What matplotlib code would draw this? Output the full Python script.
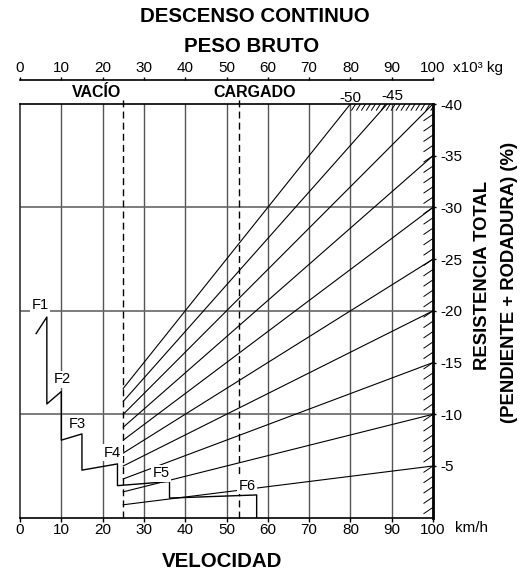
import numpy as np
import matplotlib
matplotlib.use("Agg")
import matplotlib.pyplot as plt

plt.rcParams["font.family"] = ["Liberation Sans", "DejaVu Sans"]

# ---- data ----
speed_ticks = [0, 10, 20, 30, 40, 50, 60, 70, 80, 90, 100]          # km/h (bottom)
weight_ticks = [0, 10, 20, 30, 40, 50, 60, 70, 80, 90, 100]         # x10^3 kg (top)
resist_ticks = [-5, -10, -15, -20, -25, -30, -35, -40]              # % (right)
resist_lines = [5, 10, 15, 20, 25, 30, 35, 40, 45, 50]              # total resistance fan, %
weight_empty = 25      # VACÍO
weight_loaded = 53     # CARGADO

gears = ["F1", "F2", "F3", "F4", "F5", "F6"]
v_lo = [3.9, 6.5, 10.0, 15.0, 23.6, 36.2]        # km/h at start of gear segment
v_hi = [6.5, 10.0, 15.0, 23.6, 36.2, 57.3]       # km/h at end of gear segment
r_lo = [-17.8, -11.0, -7.5, -4.6, -3.1, -1.9]    # % at v_lo
r_hi = [-19.4, -12.2, -8.1, -5.2, -3.5, -2.2]    # % at v_hi
gear_lbl_x = [4.8, 10.2, 13.9, 22.4, 34.2, 55.0]
gear_lbl_y = [-20.6, -13.4, -9.1, -6.3, -4.3, -3.1]

fig = plt.figure(figsize=(5.2, 5.75), dpi=100)
ax = fig.add_axes([20 / 520, 1 - 517.7 / 575, 413 / 520, 413.7 / 575])
ax.set_xlim(0, 100)
ax.set_ylim(0, -40)

# grid
for x in speed_ticks[1:-1]:
    ax.axvline(x, color="#555", lw=1.0, zorder=1)
for y in [-10, -20, -30]:
    ax.axhline(y, color="#666", lw=1.2, zorder=1)

# empty / loaded weight markers
for w in (weight_empty, weight_loaded):
    ax.plot([w, w], [0, -40.5], "--", color="k", lw=1.0, dashes=(5, 3), clip_on=False, zorder=2)

# resistance fan lines through the origin, drawn from the empty weight
for r in resist_lines:
    x_end = min(100.0, 40.0 * 100 / r)
    ax.plot([weight_empty, x_end], [-r * weight_empty / 100, -r * x_end / 100],
            color="k", lw=0.8, zorder=3)

# hatching along top (x>=80) and right edge
for x in np.arange(80.3, 99.5, 1.2):
    ax.plot([x, x + 0.95], [-39.4, -40], color="k", lw=0.7, zorder=3)
for y in np.arange(-1, -40, -1):
    ax.plot([97.8, 100], [y + 0.6, y], color="k", lw=0.7, zorder=3)

# retarder step curve
xs, ys = [], []
for i in range(len(gears)):
    xs += [v_lo[i], v_hi[i]]
    ys += [r_lo[i], r_hi[i]]
xs.append(v_hi[-1])
ys.append(0)
ax.plot(xs, ys, color="k", lw=1.0, zorder=4)
for g, gx, gy in zip(gears, gear_lbl_x, gear_lbl_y):
    ax.text(gx, gy, g, fontsize=10.5, ha="center", va="center", zorder=5,
            bbox=dict(boxstyle="square,pad=0.1", fc="white", ec="none"))

# axes styling
for s in ("left", "top", "bottom"):
    ax.spines[s].set_linewidth(1.2)
ax.spines["left"].set_color("#333")
ax.spines["right"].set_linewidth(2.0)
ax.set_xticks(speed_ticks)
ax.set_xticklabels([str(v) for v in speed_ticks], fontsize=11)
ax.tick_params(axis="x", direction="out", length=3, width=1, pad=0.8)
ax.yaxis.tick_right()
ax.set_yticks(resist_ticks)
ax.set_yticklabels([str(v) for v in resist_ticks], fontsize=11)
ax.tick_params(axis="y", direction="out", length=2.5, width=1, pad=3)

top = ax.secondary_xaxis(1.058)
top.set_xticks(weight_ticks)
top.set_xticklabels([str(v) for v in weight_ticks], fontsize=11)
top.tick_params(direction="out", length=2.5, width=1, pad=1.3)
top.spines["top"].set_linewidth(1.2)

# text
ax.text(104.8, -43.5, "x10³ kg", fontsize=11, ha="left", va="center", clip_on=False)
ax.text(105.3, 1.0, "km/h", fontsize=11, ha="left", va="center", clip_on=False)
ax.text(18.6, -40.7, "VACÍO", fontsize=11.5, fontweight="bold", ha="center", va="baseline")
ax.text(56.9, -40.7, "CARGADO", fontsize=11.5, fontweight="bold", ha="center", va="baseline")
ax.text(79.9, -40.2, "-50", fontsize=11, ha="center", va="baseline")
ax.text(90.1, -40.35, "-45", fontsize=11, ha="center", va="baseline")

fig.text(0.4904, 0.9623, "DESCENSO CONTINUO", fontsize=14.8, fontweight="bold",
         ha="center", va="baseline")
fig.text(0.4837, 0.9101, "PESO BRUTO", fontsize=14.8, fontweight="bold", ha="center", va="baseline")
fig.text(0.4279, 0.0144, "VELOCIDAD", fontsize=14.8, fontweight="bold", ha="center", va="baseline")
fig.text(0.927, 0.5217, "RESISTENCIA TOTAL", fontsize=13.3, fontweight="bold", rotation=90,
         ha="center", va="center")
fig.text(0.980, 0.508, "(PENDIENTE + RODADURA) (%)", fontsize=13.3, fontweight="bold", rotation=90,
         ha="center", va="center")

fig.savefig("out.png", dpi=100)
